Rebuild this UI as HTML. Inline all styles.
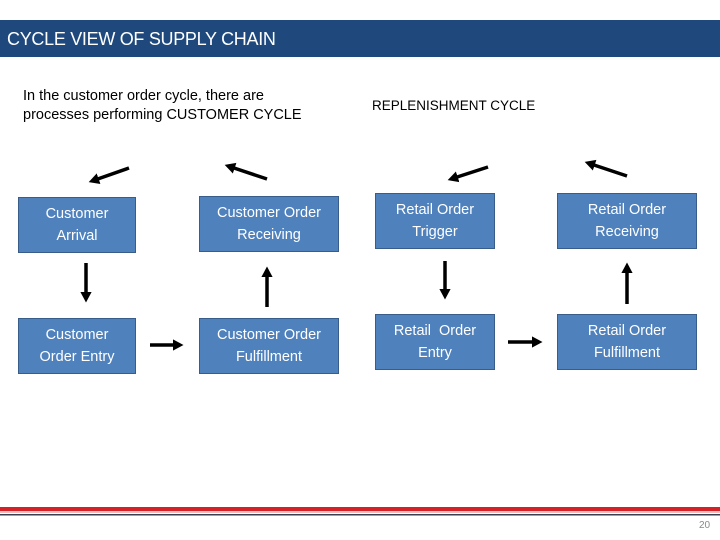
<!DOCTYPE html>
<html><head><meta charset="utf-8"><style>
html,body{margin:0;padding:0;background:#fff}
body{width:720px;height:540px;position:relative;overflow:hidden;font-family:"Liberation Sans",sans-serif}
.hdr{position:absolute;left:0;top:20px;width:720px;height:37px;background:#1f497d;color:#fff;font-size:18px;line-height:38px;padding-left:7px;box-sizing:border-box;letter-spacing:-0.3px}
.t{position:absolute;font-size:14.5px;color:#000;line-height:19px}
.b{position:absolute;background:#4f81bd;border:1.5px solid #385d8a;box-sizing:border-box;color:#fff;font-size:14.5px;line-height:22px;text-align:center;display:flex;align-items:center;justify-content:center}
</style></head><body>
<div class="hdr">CYCLE VIEW OF SUPPLY CHAIN</div>
<div class="t" style="left:23px;top:87px">In the customer order cycle, there are<br>processes performing CUSTOMER CYCLE</div>
<div class="t" style="left:372px;top:96px;font-size:13.5px">REPLENISHMENT CYCLE</div>
<div class="b" style="left:18px;top:197px;width:118px;height:56px">Customer<br>Arrival</div>
<div class="b" style="left:199px;top:196px;width:140px;height:56px">Customer Order<br>Receiving</div>
<div class="b" style="left:375px;top:193px;width:120px;height:56px">Retail Order<br>Trigger</div>
<div class="b" style="left:557px;top:193px;width:140px;height:56px">Retail Order<br>Receiving</div>
<div class="b" style="left:18px;top:318px;width:118px;height:56px">Customer<br>Order Entry</div>
<div class="b" style="left:199px;top:318px;width:140px;height:56px">Customer Order<br>Fulfillment</div>
<div class="b" style="left:375px;top:314px;width:120px;height:56px">Retail&nbsp; Order<br>Entry</div>
<div class="b" style="left:557px;top:314px;width:140px;height:56px">Retail Order<br>Fulfillment</div>
<svg width="720" height="540" style="position:absolute;left:0;top:0">
<defs><marker id="a" markerWidth="4" markerHeight="4" refX="2" refY="2" orient="auto" markerUnits="strokeWidth"><path d="M0,0.4 L3,2 L0,3.6 Z" fill="#000"/></marker></defs>
<g stroke="#000" stroke-width="3.5" marker-end="url(#a)">
<line x1="129" y1="168" x2="92" y2="181"/>
<line x1="267" y1="179" x2="228" y2="166"/>
<line x1="488" y1="167" x2="451" y2="179"/>
<line x1="627" y1="176" x2="588" y2="163"/>
<line x1="86" y1="263" x2="86" y2="299"/>
<line x1="267" y1="307" x2="267" y2="270"/>
<line x1="445" y1="261" x2="445" y2="296"/>
<line x1="627" y1="304" x2="627" y2="266"/>
<line x1="150" y1="345" x2="180" y2="345"/>
<line x1="508" y1="342" x2="539" y2="342"/>
</g>
<rect x="0" y="507" width="720" height="4" fill="#d42027"/>
<rect x="0" y="511" width="720" height="2" fill="#f0c0c0"/>
<rect x="0" y="514" width="720" height="1.5" fill="#3a4050"/>
</svg>
<div style="position:absolute;left:699px;top:520px;font-size:10px;color:#888">20</div>
</body></html>
